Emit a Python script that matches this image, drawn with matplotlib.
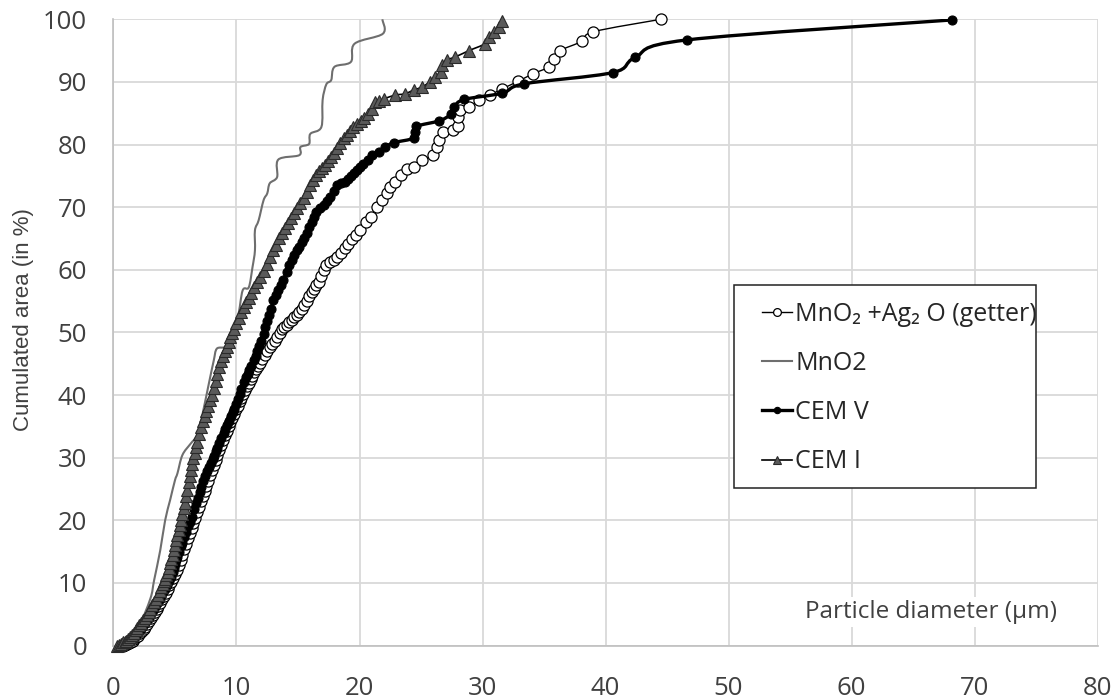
import numpy as np
import matplotlib
matplotlib.use("Agg")
from matplotlib import pyplot as plt
from matplotlib.path import Path
from matplotlib.patches import PathPatch, Rectangle
from matplotlib.lines import Line2D

plt.rcParams['font.family'] = ['Open Sans', 'DejaVu Sans']

# MnO2 + Ag2O (getter), open circles
getter_x = [0.8, 0.95, 1.1, 1.25, 1.4, 1.55, 1.7, 1.85, 2.0, 2.15, 2.3, 2.45, 2.6, 2.75, 2.9,
            3.05, 3.2, 3.35, 3.5, 3.65, 3.8, 3.95, 4.1, 4.25, 4.4, 4.55, 4.7, 4.85, 5.0, 5.15,
            5.3, 5.45, 5.6, 5.75, 5.9, 6.05, 6.2, 6.35, 6.5, 6.65, 6.8, 6.95, 7.1, 7.25, 7.4,
            7.55, 7.7, 7.85, 8.0, 8.15, 8.3, 8.45, 8.6, 8.75, 8.9, 9.05, 9.2, 9.35, 9.5, 9.65,
            9.8, 9.95, 10.1, 10.25, 10.4, 10.55, 10.7, 10.85, 11.0, 11.15, 11.3, 11.45, 11.6,
            11.75, 11.9, 12.1, 12.3, 12.5, 12.7, 12.9, 13.1, 13.3, 13.5, 13.7, 13.9, 14.1, 14.3,
            14.5, 14.7, 14.9, 15.1, 15.3, 15.5, 15.7, 15.9, 16.1, 16.3, 16.5, 16.7, 16.9, 17.1,
            17.3, 17.6, 17.9, 18.2, 18.5, 18.8, 19.1, 19.4, 19.7, 20.0, 20.5, 20.9, 21.4, 21.8,
            22.2, 22.5, 22.9, 23.4, 23.9, 24.4, 25.1, 26.0, 26.3, 26.5, 26.8, 27.6, 28.0, 28.0,
            28.2, 28.9, 29.7, 30.6, 31.6, 32.9, 34.1, 35.4, 35.8, 36.3, 38.1, 39.0, 44.5]
getter_y = [0.0, 0.1, 0.2, 0.35, 0.5, 0.75, 1.0, 1.3, 1.6, 1.95, 2.3, 2.65, 3.0, 3.45, 3.9,
            4.35, 4.8, 5.3, 5.8, 6.3, 6.8, 7.35, 7.9, 8.45, 9.0, 9.6, 10.2, 10.8, 11.4, 12.1,
            12.9, 13.7, 14.5, 15.4, 16.2, 17.1, 17.9, 18.8, 19.6, 20.4, 21.3, 22.1, 23.0, 23.8, 24.6,
            25.5, 26.3, 27.2, 28.0, 28.8, 29.7, 30.5, 31.3, 32.1, 32.8, 33.6, 34.3, 35.0, 35.7, 36.4,
            37.0, 37.7, 38.3, 39.0, 39.6, 40.2, 40.8, 41.4, 42.0, 42.6, 43.1, 43.6, 44.1,
            44.6, 45.1, 45.7, 46.4, 47.1, 47.6, 48.1, 48.7, 49.3, 49.9, 50.5, 50.9, 51.2, 51.6,
            52.0, 52.4, 52.8, 53.3, 53.8, 54.4, 55.0, 55.8, 56.5, 57.0, 57.5, 58.1, 59.0, 59.9,
            60.7, 61.3, 61.6, 62.0, 62.7, 63.4, 64.1, 64.9, 65.6, 66.3, 67.6, 68.4, 70.0, 71.1,
            72.2, 73.2, 74.0, 75.1, 76.1, 76.4, 77.5, 78.3, 79.6, 80.7, 82.0, 82.3, 83.0, 84.4,
            85.5, 86.0, 87.1, 87.9, 88.9, 90.1, 91.3, 92.4, 93.7, 95.0, 96.5, 98.0, 100.0]

# MnO2, plain grey line
mno2_x = [0.3, 1.0, 2.0, 3.0, 3.3, 3.8, 4.2, 4.6, 5.0, 5.2, 5.6, 6.26, 6.8, 7.07, 7.75,
          8.15, 8.4, 9.1, 9.4, 10.1, 10.5, 11.0, 11.3, 11.5, 11.5, 11.8, 12.2, 12.5, 12.7,
          13.3, 13.4, 15.1, 15.2, 15.9, 16.0, 16.9, 17.0, 17.3, 17.7, 17.96, 19.3, 19.6,
          21.9, 21.85]
mno2_y = [0.0, 0.6, 2.8, 7.5, 10.4, 15.2, 20.0, 23.2, 26.4, 27.5, 30.4, 32.2, 33.5, 35.4, 41.8,
          45.5, 47.4, 47.7, 49.2, 52.4, 56.7, 57.2, 60.4, 63.1, 66.3, 67.9, 71.1, 72.2, 73.8,
          74.8, 77.6, 78.3, 79.6, 80.1, 81.7, 82.8, 87.1, 89.6, 90.3, 92.4, 93.2, 96.1,
          97.7, 100.0]

# CEM V, black dots
cemv_x = [0.6, 0.75, 0.9, 1.05, 1.2, 1.35, 1.5, 1.65, 1.8, 1.95, 2.1, 2.25, 2.4, 2.55, 2.7,
          2.85, 3.0, 3.15, 3.3, 3.45, 3.6, 3.75, 3.9, 4.05, 4.2, 4.35, 4.5, 4.65, 4.8, 4.9,
          5.0, 5.1, 5.2, 5.35, 5.5, 5.6, 5.75, 5.9, 6.05, 6.2, 6.35, 6.55, 6.7, 6.85, 7.0,
          7.15, 7.3, 7.45, 7.6, 7.75, 7.9, 8.05, 8.15, 8.3, 8.45, 8.6, 8.75, 8.95, 9.1, 9.25,
          9.4, 9.55, 9.7, 9.8, 9.95, 10.1, 10.25, 10.4, 10.6, 10.75, 10.9, 11.05, 11.2, 11.4,
          11.55, 11.7, 11.85, 12.0, 12.2, 12.35, 12.5, 12.65, 12.8, 13.0, 13.2, 13.4, 13.6,
          13.8, 14.1, 14.3, 14.5, 14.7, 14.9, 15.1, 15.3, 15.5, 15.7, 15.9, 16.1, 16.3, 16.5,
          16.8, 17.1, 17.35, 17.6, 17.9, 18.2, 18.5, 18.8, 19.05, 19.3, 19.55, 19.8, 20.05,
          20.3, 20.65, 21.0, 21.6, 22.1, 22.8, 24.4, 24.5, 24.6, 26.5, 27.4, 27.7, 28.5,
          31.6, 33.4, 40.6, 42.4, 46.6, 68.2]
cemv_y = [0.0, 0.1, 0.2, 0.35, 0.5, 0.75, 1.0, 1.3, 1.6, 1.95, 2.3, 2.7, 3.1, 3.55, 4.0,
          4.45, 4.9, 5.4, 5.9, 6.4, 6.9, 7.45, 8.0, 8.55, 9.1, 9.7, 10.3, 11.0, 11.8, 12.4,
          13.0, 13.6, 14.1, 15.0, 15.9, 16.4, 17.3, 18.1, 19.1, 19.8, 20.6, 21.8, 22.7, 23.6, 24.5,
          25.3, 26.2, 27.0, 27.8, 28.5, 29.2, 29.8, 30.3, 31.0, 31.6, 32.4, 33.1, 34.0, 34.6, 35.2,
          35.9, 36.6, 37.3, 37.8, 38.6, 39.4, 40.2, 41.0, 42.1, 42.8, 43.4, 44.0, 44.7, 45.6,
          46.3, 47.0, 47.8, 48.7, 49.8, 50.8, 51.8, 52.8, 53.7, 55.1, 55.9, 56.7, 57.6,
          58.4, 59.7, 60.7, 61.6, 62.4, 63.1, 63.6, 64.4, 65.1, 65.8, 66.8, 67.6, 68.5, 69.2,
          69.8, 70.3, 71.0, 71.6, 72.6, 73.5, 73.8, 74.0, 74.5, 75.0, 75.4, 75.9, 76.4,
          76.9, 77.6, 78.3, 78.8, 79.6, 80.3, 81.0, 82.0, 82.9, 83.8, 84.8, 86.0, 87.2,
          88.2, 89.7, 91.5, 93.9, 96.7, 99.9]

# CEM I, grey triangles
cemi_x = [0.3, 0.45, 0.6, 0.75, 0.9, 1.05, 1.2, 1.35, 1.5, 1.65, 1.8, 1.95, 2.1, 2.25, 2.4,
          2.55, 2.7, 2.85, 3.0, 3.15, 3.3, 3.45, 3.6, 3.75, 3.9, 4.0, 4.1, 4.2, 4.3, 4.4,
          4.5, 4.6, 4.7, 4.8, 4.9, 5.0, 5.1, 5.2, 5.3, 5.4, 5.5, 5.6, 5.7, 5.8, 5.9, 6.0,
          6.1, 6.2, 6.3, 6.4, 6.5, 6.6, 6.7, 6.8, 6.95, 7.1, 7.25, 7.4, 7.55, 7.7, 7.85, 8.0,
          8.15, 8.3, 8.45, 8.6, 8.75, 8.9, 9.05, 9.2, 9.35, 9.5, 9.65, 9.8, 10.0, 10.2, 10.4,
          10.6, 10.8, 11.0, 11.2, 11.45, 11.7, 11.95, 12.2, 12.45, 12.7, 12.95, 13.2, 13.45,
          13.7, 13.95, 14.2, 14.45, 14.7, 14.95, 15.2, 15.45, 15.7, 15.95, 16.2, 16.45, 16.7,
          16.95, 17.2, 17.45, 17.7, 17.95, 18.2, 18.45, 18.7, 18.95, 19.2, 19.5, 19.8, 20.1,
          20.4, 20.7, 21.0, 21.3, 21.6, 22.0, 22.9, 23.7, 24.4, 25.1, 25.7, 26.1, 26.6, 26.7,
          27.1, 27.8, 28.9, 30.2, 30.5, 30.9, 31.3, 31.6]
cemi_y = [0.0, 0.1, 0.3, 0.5, 0.6, 0.8, 1.1, 1.4, 1.7, 2.0, 2.4, 2.8, 3.2, 3.6, 4.0,
          4.4, 4.9, 5.4, 5.9, 6.4, 7.0, 7.5, 8.1, 8.7, 9.3, 9.8, 10.3, 10.7, 11.2, 11.7,
          12.4, 13.1, 13.8, 14.5, 15.3, 16.0, 16.8, 17.6, 18.5, 19.3, 20.1, 21.0, 21.9, 22.8, 23.8, 24.9,
          26.1, 27.0, 28.0, 29.0, 30.0, 30.8, 31.7, 32.5, 33.7, 34.9, 35.8, 36.6, 37.4, 38.3, 39.2, 40.0,
          41.2, 42.3, 43.3, 44.4, 45.4, 46.2, 47.0, 47.7, 48.5, 49.2, 49.9, 50.5, 51.5, 52.3, 53.2,
          54.0, 54.8, 55.5, 56.3, 57.2, 58.0, 58.9, 59.8, 60.9, 62.0, 63.1, 64.0, 65.0,
          65.9, 66.7, 67.5, 68.2, 69.0, 69.8, 70.6, 71.5, 72.5, 73.5, 74.3, 75.1, 75.8,
          76.3, 76.8, 77.4, 78.0, 78.7, 79.4, 80.2, 81.0, 81.6, 82.2, 82.8, 83.3, 83.8,
          84.3, 84.9, 85.7, 86.8, 87.0, 87.3, 87.9, 88.1, 88.7, 89.2, 90.0, 90.8, 91.6, 92.7,
          93.5, 94.0, 95.0, 96.1, 97.2, 98.0, 98.8, 99.7]

labels = ['MnO\u2082 +Ag\u2082 O (getter)', 'MnO2', 'CEM V', 'CEM I']
x_ticks = np.arange(0, 81, 10)
y_ticks = np.arange(0, 101, 10)


def smooth_path(x, y):
    # Excel-like smoothed line: cubic Bezier through the points
    p = np.column_stack([x, y]).astype(float)
    verts = [p[0]]
    codes = [Path.MOVETO]
    for i in range(len(p) - 1):
        p0 = p[i - 1] if i > 0 else p[i]
        p3 = p[i + 2] if i + 2 < len(p) else p[i + 1]
        c1 = p[i] + (p[i + 1] - p0) / 6.0
        c2 = p[i + 1] - (p3 - p[i]) / 6.0
        verts += [c1, c2, p[i + 1]]
        codes += [Path.CURVE4] * 3
    return Path(verts, codes)


fig = plt.figure(figsize=(11.17, 6.99), dpi=100)
ax = fig.add_axes([0.1016, 0.0765, 0.881, 0.8959])

series = [
    dict(x=getter_x, y=getter_y, color='black', lw=1.0, marker='o', ms=8,
         mfc='white', mec='black', mew=0.9),
    dict(x=mno2_x, y=mno2_y, color='#6e6e6e', lw=1.5, marker=None, ms=0,
         mfc='none', mec='none', mew=0),
    dict(x=cemv_x, y=cemv_y, color='black', lw=2.4, marker='o', ms=6.5,
         mfc='black', mec='black', mew=0.8),
    dict(x=cemi_x, y=cemi_y, color='black', lw=1.2, marker='^', ms=8.5,
         mfc='#5a5a5a', mec='#2a2a2a', mew=0.8),
]

handles = []
for z, s in enumerate(series):
    patch = PathPatch(smooth_path(s['x'], s['y']), facecolor='none',
                      edgecolor=s['color'], lw=s['lw'], zorder=3 + z * 2)
    ax.add_patch(patch)
    if s['marker']:
        ax.plot(s['x'], s['y'], linestyle='none', marker=s['marker'], ms=s['ms'],
                mfc=s['mfc'], mec=s['mec'], mew=s['mew'], zorder=4 + z * 2, clip_on=False)
    handles.append(Line2D([], [], color=s['color'], lw=s['lw'], marker=s['marker'],
                          ms=s['ms'] * 0.7, mfc=s['mfc'], mec=s['mec'], mew=s['mew']))

ax.set_xlim(0, 80)
ax.set_ylim(0, 100)
ax.set_xticks(x_ticks)
ax.set_yticks(y_ticks)
ax.grid(True, color='#d9d9d9', lw=1.3)
ax.set_axisbelow(True)
ax.tick_params(length=0, labelsize=18.5, labelcolor='#404040')
ax.tick_params(axis='x', pad=22)
ax.tick_params(axis='y', pad=19)
for side in ['top', 'right']:
    ax.spines[side].set_visible(False)
for side in ['left', 'bottom']:
    ax.spines[side].set_color('#bfbfbf')
    ax.spines[side].set_linewidth(1.2)

ax.set_ylabel('Cumulated area (in %)', fontsize=16, color='#404040',
              family=['Liberation Sans', 'DejaVu Sans'])
ax.yaxis.set_label_coords(-0.081, 0.52)
ax.text(0.959, 0.0535, 'Particle diameter (\u03bcm)', transform=ax.transAxes,
        ha='right', va='center', fontsize=17.5, color='#404040', zorder=2,
        bbox=dict(facecolor='white', edgecolor='none', pad=2))

ax.add_patch(Rectangle((0.6306, 0.2515), 0.9375 - 0.6306, 0.5757 - 0.2515,
                       transform=ax.transAxes, facecolor='white', edgecolor='#222222',
                       lw=1.1, zorder=20, clip_on=False))
leg = ax.legend(handles, labels, loc='upper left', bbox_to_anchor=(0.6587, 0.549),
                frameon=False, fontsize=18, borderpad=0, borderaxespad=0,
                handlelength=1.2, handletextpad=0.15, labelspacing=0.97)
leg.set_zorder(21)
for t in leg.get_texts():
    t.set_color('#262626')

fig.savefig('out.png', dpi=100)
